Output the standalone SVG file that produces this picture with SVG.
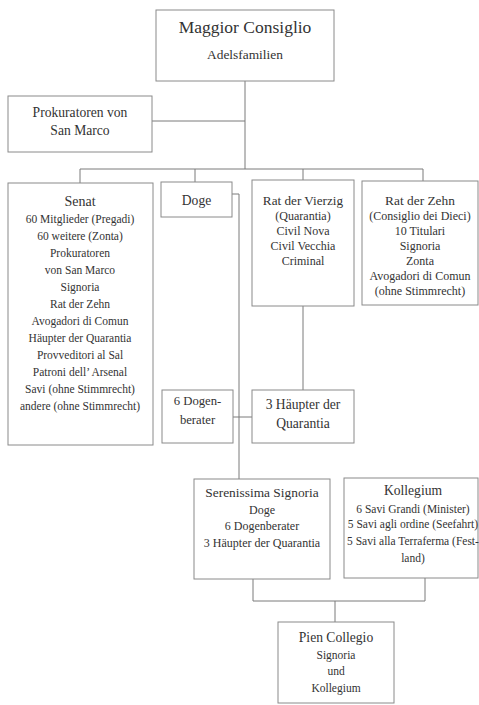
<svg xmlns="http://www.w3.org/2000/svg" width="479" height="705" viewBox="0 0 479 705">
<style>
.box{fill:#fff;stroke:#8a8a8a;stroke-width:1}
.ln{fill:none;stroke:#7a7a7a;stroke-width:1}
text{font-family:"Liberation Serif","DejaVu Serif",serif;fill:#333;text-anchor:middle}
.t{font-size:13.6px}
.b{font-size:12px}
.s{font-size:11.5px}
</style>
<rect width="479" height="705" fill="#fff"/>
<g id="connectors">
<path class="ln" d="M245,81V169M152,121H245M80,169H423M80,169V183M195,169V182M303,169V180M423,169V181"/>
<path class="ln" d="M232,194H239V479M233,417H252M303,288V390"/>
<path class="ln" d="M253,579V601H425V578M335,601V622"/>
</g>
<g id="maggior">
<rect class="box" x="156" y="10" width="178" height="71"/>
<text x="245" y="33" style="font-size:17.5px">Maggior Consiglio</text>
<text x="245" y="59" style="font-size:13.4px">Adelsfamilien</text>
</g>
<g id="prokuratoren">
<rect class="box" x="8" y="96" width="144" height="56"/>
<text class="t" x="80" y="117">Prokuratoren von</text>
<text class="t" x="80" y="135">San Marco</text>
</g>
<g id="senat">
<rect class="box" x="8" y="183" width="145" height="262"/>
<text x="80" y="206" style="font-size:14px">Senat</text>
<text class="s" x="80" y="223">60 Mitglieder (Pregadi)</text>
<text class="s" x="80" y="240">60 weitere (Zonta)</text>
<text class="s" x="80" y="257">Prokuratoren</text>
<text class="s" x="80" y="274">von San Marco</text>
<text class="s" x="80" y="291">Signoria</text>
<text class="s" x="80" y="308">Rat der Zehn</text>
<text class="s" x="80" y="325">Avogadori di Comun</text>
<text class="s" x="80" y="342">Häupter der Quarantia</text>
<text class="s" x="80" y="359">Provveditori al Sal</text>
<text class="s" x="80" y="376">Patroni dell’ Arsenal</text>
<text class="s" x="80" y="393">Savi (ohne Stimmrecht)</text>
<text class="s" x="80" y="410">andere (ohne Stimmrecht)</text>
</g>
<g id="doge">
<rect class="box" x="161" y="182" width="71" height="35"/>
<text class="t" x="196.5" y="205">Doge</text>
</g>
<g id="vierzig">
<rect class="box" x="252" y="180" width="102" height="126"/>
<text x="303" y="205" style="font-size:13.2px">Rat der Vierzig</text>
<text class="b" x="303" y="220">(Quarantia)</text>
<text class="b" x="303" y="235">Civil Nova</text>
<text class="b" x="303" y="250">Civil Vecchia</text>
<text class="b" x="303" y="265">Criminal</text>
</g>
<g id="zehn">
<rect class="box" x="362" y="181" width="116" height="124"/>
<text x="420" y="205" style="font-size:13.4px">Rat der Zehn</text>
<text class="b" x="420" y="220">(Consiglio dei Dieci)</text>
<text class="b" x="420" y="235">10 Titulari</text>
<text class="b" x="420" y="250">Signoria</text>
<text class="b" x="420" y="265">Zonta</text>
<text class="b" x="420" y="280">Avogadori di Comun</text>
<text class="b" x="420" y="295">(ohne Stimmrecht)</text>
</g>
<g id="dogenberater">
<rect class="box" x="162" y="390" width="71" height="53"/>
<text x="197.5" y="405" style="font-size:12.7px">6 Dogen-</text>
<text x="197.5" y="424" style="font-size:12.7px">berater</text>
</g>
<g id="haeupter">
<rect class="box" x="252" y="390" width="102" height="53"/>
<text class="t" x="303" y="409">3 Häupter der</text>
<text class="t" x="303" y="428">Quarantia</text>
</g>
<g id="serenissima">
<rect class="box" x="194" y="479" width="136" height="100"/>
<text x="262" y="497" style="font-size:13.4px">Serenissima Signoria</text>
<text class="b" x="262" y="514">Doge</text>
<text class="b" x="262" y="530">6 Dogenberater</text>
<text class="b" x="262" y="547">3 Häupter der Quarantia</text>
</g>
<g id="kollegium">
<rect class="box" x="344" y="478" width="134" height="100"/>
<text x="413" y="495" style="font-size:13.6px">Kollegium</text>
<text class="s" x="413" y="513">6 Savi Grandi (Minister)</text>
<text class="s" x="413" y="528">5 Savi agli ordine (Seefahrt)</text>
<text class="s" x="413" y="545">5 Savi alla Terraferma (Fest-</text>
<text class="s" x="413" y="562">land)</text>
</g>
<g id="pien">
<rect class="box" x="278" y="622" width="116" height="81"/>
<text class="t" x="336" y="642">Pien Collegio</text>
<text class="s" x="336" y="659">Signoria</text>
<text class="s" x="336" y="675">und</text>
<text class="s" x="336" y="692">Kollegium</text>
</g>
</svg>
